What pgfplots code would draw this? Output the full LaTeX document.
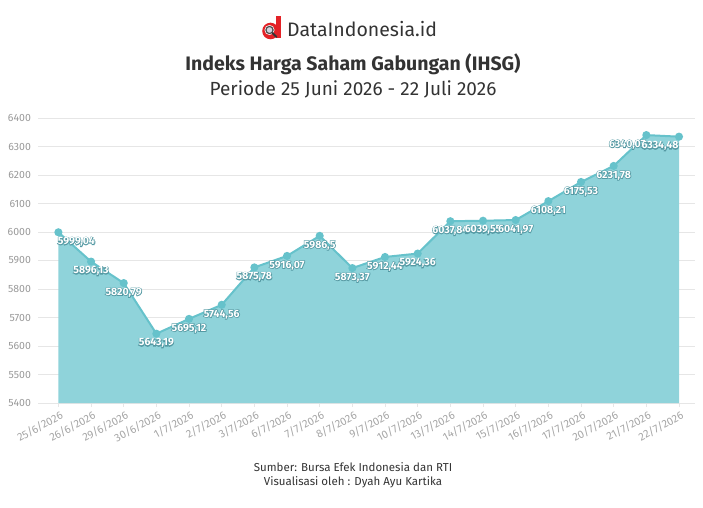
\documentclass[border=0pt]{standalone}
\usepackage{pgfplots}
\pgfplotsset{compat=1.18}
\usepackage{fontspec}
\setmainfont{Fira Sans}
\usepackage{xcolor}

\definecolor{areafill}{HTML}{8FD3DA}
\definecolor{linec}{HTML}{66C2CB}
\definecolor{gridc}{HTML}{E6E6E6}
\definecolor{ticktext}{HTML}{999999}
\definecolor{xtext}{HTML}{A6A6A6}
\definecolor{titlec}{HTML}{333333}
\definecolor{logored}{HTML}{E32227}

% outlined data labels: a stroked teal copy beneath, the white glyphs on top
\newcommand\outl[1]{\rlap{\color{white}%
    \special{pdf:literal direct 1 Tr 1.3 w 0.33 0.60 0.64 RG}#1%
    \special{pdf:literal direct 0 Tr}}%
  {\color{white}#1}}

% IHSG closing values
\pgfplotstableread{
idx value
0  5999.04
1  5896.13
2  5820.79
3  5643.19
4  5695.12
5  5744.56
6  5875.78
7  5916.07
8  5986.50
9  5873.37
10 5912.44
11 5924.36
12 6037.84
13 6039.55
14 6041.97
15 6108.21
16 6175.53
17 6231.78
18 6340.07
19 6334.48
}\ihsg

\begin{document}
\begin{tikzpicture}
\useasboundingbox (0,0) rectangle (703pt,507pt);

% header: logo and titles
\begin{scope}
  \fill[logored] (270.5pt,476pt) circle (8.3pt);
  \fill[logored] (275.5pt,468.5pt) rectangle (281pt,490.5pt);
  \fill[white] (269.5pt,477pt) circle (5pt);
  \fill[blue!15!gray!30] (269.5pt,477pt) circle (3.3pt);
  \draw[black!70,line width=1.2pt] (269.5pt,477pt) circle (3.6pt);
  \draw[black!80,line width=2pt,line cap=round] (272.5pt,474pt) -- (276.5pt,470pt);
\end{scope}
\node[anchor=west,text=titlec,font=\fontsize{19.5}{22}\selectfont,inner sep=0pt] at (287pt,478pt) {DataIndonesia.id};
\node[text=titlec,font=\fontsize{19.5}{22}\selectfont\bfseries] at (353pt,443pt) {Indeks Harga Saham Gabungan (IHSG)};
\node[text=titlec,font=\fontsize{19}{22}\selectfont] at (353pt,418pt) {Periode 25 Juni 2026 - 22 Juli 2026};

% footer
\node[text=titlec,font=\fontsize{11.5}{13}\selectfont] at (353pt,40pt) {Sumber: Bursa Efek Indonesia dan RTI};
\node[text=titlec,font=\fontsize{11.5}{13}\selectfont] at (353pt,25pt) {Visualisasi oleh : Dyah Ayu Kartika};

\begin{axis}[
  at={(38.4pt,104pt)}, anchor=south west,
  scale only axis, width=656.6pt, height=285pt,
  xmin=-0.612, xmax=19.49,
  ymin=5400, ymax=6400,
  ytick={5400,5500,...,6400},
  xtick={0,...,19},
  xticklabels={25/6/2026,26/6/2026,29/6/2026,30/6/2026,1/7/2026,2/7/2026,3/7/2026,6/7/2026,7/7/2026,8/7/2026,9/7/2026,10/7/2026,13/7/2026,14/7/2026,15/7/2026,16/7/2026,17/7/2026,20/7/2026,21/7/2026,22/7/2026},
  axis line style={draw=none},
  ymajorgrids, grid style={gridc, line width=0.8pt},
  ytick style={draw=none},
  xtick style={draw=gridc, line width=0.8pt},
  tick align=outside, major tick length=4pt, xtick pos=lower,
  /pgf/number format/assume math mode=true,
  yticklabel style={font=\fontsize{10.5}{12}\selectfont, text=ticktext, /pgf/number format/1000 sep={}},
  xticklabel style={font=\fontsize{11}{12}\selectfont, text=xtext, rotate=28, anchor=north east, xshift=3pt, yshift=0pt},
  clip=false,
]
\addplot[fill=areafill, draw=none] table[x=idx, y=value] {\ihsg} \closedcycle;
\addplot[
  color=linec, line width=2pt,
  mark=*, mark size=3pt, mark options={fill=linec, draw=none},
  visualization depends on={value \coordindex \as \idx},
  point meta=explicit,
  nodes near coords={\outl{\pgfmathprintnumber[fixed, precision=2, use comma, 1000 sep={}]{\pgfplotspointmeta}}},
  every node near coord/.style={anchor=north, inner sep=1pt, yshift=-3pt, text=white,
     font=\fontsize{10.5}{12}\selectfont\bfseries,
     xshift={(\idx==0)*18 - (\idx>=18)*19}},
] table[x=idx, y=value, meta=value] {\ihsg};
\end{axis}
\end{tikzpicture}
\end{document}
